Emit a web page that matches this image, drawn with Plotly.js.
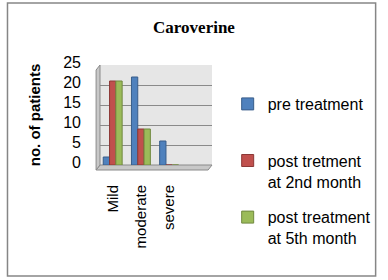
<!DOCTYPE html>
<html>
<head>
<meta charset="utf-8">
<script src="https://cdn.plot.ly/plotly-3.0.1.min.js"></script>
<style>
html,body{margin:0;padding:0;background:#fff;}
#chart{width:388px;height:280px;}
</style>
</head>
<body>
<div id="chart"></div>
<script>
var categories = ["Mild", "moderate", "severe"];
var seriesNames = ["pre treatment", "post tretment<br>at 2nd month", "post treatment<br>at 5th month"];
var preTreatment = [2, 22, 6];
var post2ndMonth = [21, 9, 0];
var post5thMonth = [21, 9, 0];
var yTicks = [0, 5, 10, 15, 20, 25];

var fills = ["#4f81bd", "#c0504d", "#9bbb59"];
var edges = ["#385d8a", "#8c3836", "#71893f"];
var allValues = [preTreatment, post2ndMonth, post5thMonth];

var traces = allValues.map(function (vals, i) {
  return {
    type: "bar",
    x: categories,
    y: vals,
    name: (i === 0 ? seriesNames[i] + "<br>\u00a0" : seriesNames[i]),
    legendgroup: "g" + i,
    marker: {color: fills[i], line: {color: edges[i], width: 1}},
    hoverinfo: "x+y"
  };
});

var layout = {
  width: 388,
  height: 280,
  margin: {l: 100, r: 173, t: 65, b: 115, pad: 0},
  paper_bgcolor: "#ffffff",
  plot_bgcolor: "#e6e6e6",
  font: {family: "Liberation Sans, Arial, sans-serif", size: 15, color: "#000"},
  title: {
    text: "<b>Caroverine</b>",
    font: {family: "Liberation Serif, Times New Roman, serif", size: 17, color: "#000"},
    x: 0.5, xref: "container", xanchor: "center",
    y: 0.904, yref: "container", yanchor: "middle"
  },
  barmode: "group",
  bargap: 0.33,
  bargroupgap: 0,
  xaxis: {
    type: "category",
    range: [-0.45, 3.52],
    tickangle: -90,
    ticks: "",
    showgrid: false,
    zeroline: false,
    showline: false,
    ticklabelstandoff: 16,
    tickfont: {size: 15},
    fixedrange: true
  },
  yaxis: {
    range: [0, 25],
    tickvals: yTicks,
    ticks: "",
    showgrid: true,
    gridcolor: "#8a8a8a",
    gridwidth: 1,
    zeroline: false,
    showline: false,
    ticklabelstandoff: 18,
    ticklabelshift: -3,
    tickfont: {size: 16},
    title: {text: "<b>no. of patients</b>", font: {size: 15}, standoff: 18},
    fixedrange: true
  },
  showlegend: true,
  legend: {
    x: 1.14, xref: "paper", xanchor: "left",
    y: 0.78, yanchor: "top",
    traceorder: "grouped",
    tracegroupgap: 12,
    valign: "top",
    maxheight: 400,
    font: {size: 16},
    bgcolor: "rgba(0,0,0,0)"
  },
  shapes: [
    {type: "path", xref: "paper", yref: "paper",
     path: "M 0 0 L 1 0 L 0.965 -0.05 L -0.035 -0.05 Z",
     fillcolor: "#c8c8c8", line: {color: "#8a8a8a", width: 1}, layer: "below"},
    {type: "path", xref: "paper", yref: "paper",
     path: "M 0 1 L 0 0 L -0.035 -0.05 L -0.035 0.95 Z",
     fillcolor: "#c8c8c8", line: {color: "#8a8a8a", width: 1}, layer: "below"},
    {type: "rect", xref: "paper", yref: "paper",
     x0: -0.826, x1: 2.461, y0: -1.11, y1: 1.62,
     line: {color: "#868686", width: 1.5}, fillcolor: "rgba(0,0,0,0)"}
  ]
};

Plotly.newPlot("chart", traces, layout, {displayModeBar: false, staticPlot: true});
</script>
</body>
</html>
